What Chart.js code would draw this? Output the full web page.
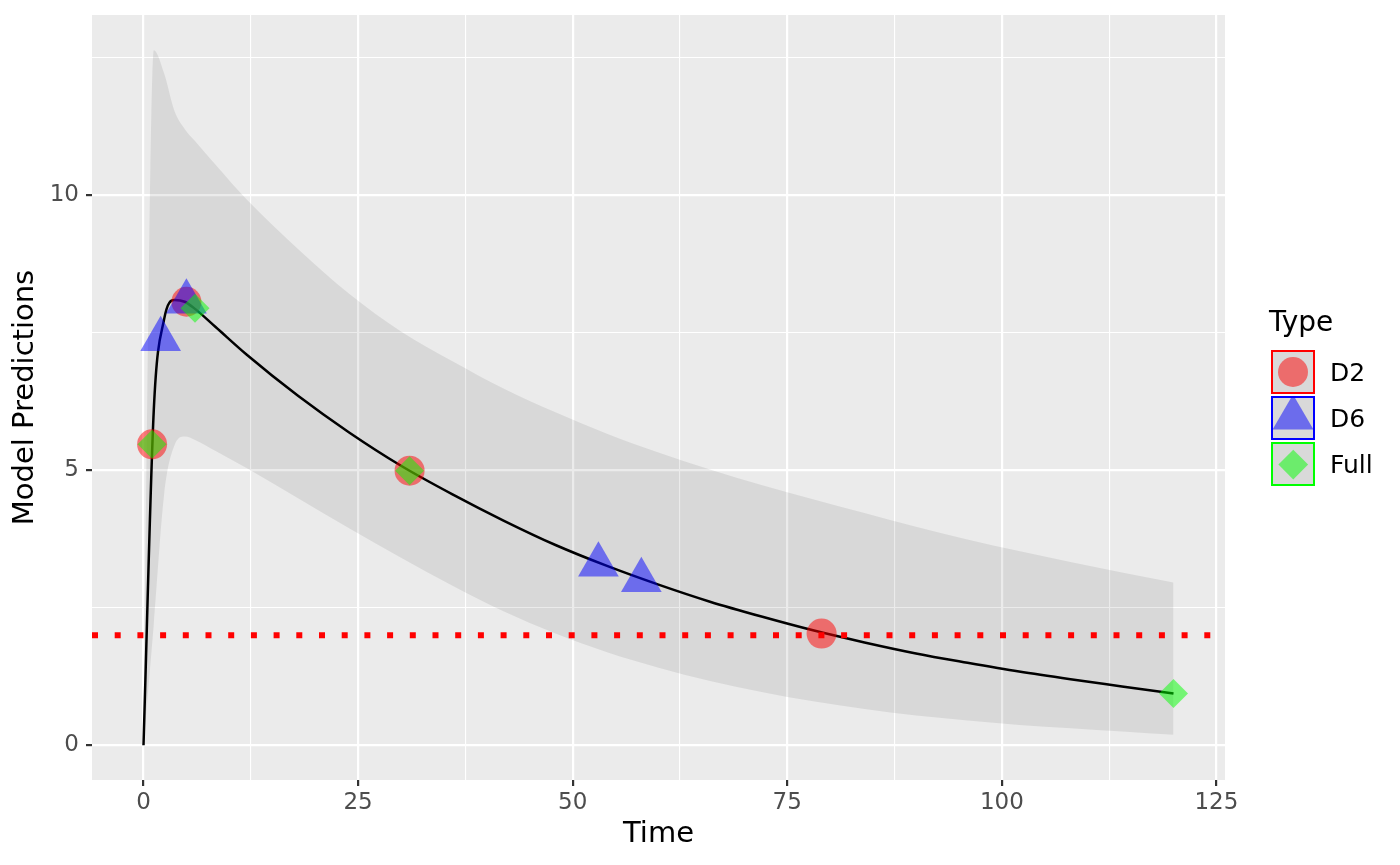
<!DOCTYPE html>
<html>
<head>
    <meta charset="utf-8">
    <title>Model Predictions</title>
    <script src="https://cdn.jsdelivr.net/npm/chart.js"></script>
    <style>
        body { margin: 0; background: #ffffff; font-family: "DejaVu Sans", sans-serif; }
        #wrap { position: relative; width: 1400px; height: 865px; }
        #predChart { position: absolute; left: 0; top: 0; }
        .legend-title { position: absolute; left: 1269px; top: 308px; font-size: 28px; line-height: 28px; color: #000; }
        .key { position: absolute; left: 1271px; width: 44px; height: 44px; box-sizing: border-box; border: 2px solid; background: #d9d9d9; overflow: hidden; }
        .key span { position: absolute; display: block; }
        .circle { left: 5px; top: 5px; width: 30px; height: 30px; border-radius: 50%; background: rgba(255, 0, 0, 0.5); }
        .triangle { left: -0.5px; top: -3.5px; width: 41px; height: 35px; clip-path: polygon(50% 0, 100% 100%, 0 100%); background: rgba(0, 0, 255, 0.5); }
        .diamond { left: 9.75px; top: 10.25px; width: 20.5px; height: 20.5px; transform: rotate(45deg); background: rgba(0, 255, 0, 0.5); }
        .label { position: absolute; left: 1330px; font-size: 25px; line-height: 25px; color: #000; }
    </style>
</head>
<body>
    <div id="wrap">
        <canvas id="predChart" width="1400" height="865"></canvas>
        <div class="legend-title">Type</div>
        <div class="key" style="top: 350px; border-color: #ff0000;"><span class="circle"></span></div>
        <div class="label" style="top: 360px;">D2</div>
        <div class="key" style="top: 396px; border-color: #0000ff;"><span class="triangle"></span></div>
        <div class="label" style="top: 406px;">D6</div>
        <div class="key" style="top: 442px; border-color: #00ff00;"><span class="diamond"></span></div>
        <div class="label" style="top: 452px;">Full</div>
    </div>

    <script>
        // prediction grid (time) with the band and the central prediction
        const gridTime = [0, 1.2, 2.4, 3.6, 4.8, 6, 8.4, 12, 18, 24, 30, 36, 42, 48, 54, 60, 66, 72, 78, 84, 90, 96, 102, 108, 114, 120];
        const bandUpper = [0, 12.63, 12.21, 11.53, 11.2, 10.98, 10.55, 9.92, 9.02, 8.2, 7.52, 6.98, 6.48, 6.05, 5.66, 5.32, 5.01, 4.73, 4.47, 4.22, 3.97, 3.74, 3.53, 3.33, 3.14, 2.96];
        const bandLower = [0, 2.2, 4.55, 5.45, 5.61, 5.55, 5.35, 5.04, 4.49, 3.94, 3.41, 2.9, 2.43, 2.03, 1.69, 1.41, 1.17, 0.97, 0.8, 0.66, 0.54, 0.45, 0.37, 0.31, 0.25, 0.19];
        const predValue = [0, 6.1, 7.74, 8.09, 8.06, 7.93, 7.6, 7.1, 6.35, 5.68, 5.08, 4.56, 4.08, 3.64, 3.26, 2.92, 2.61, 2.34, 2.09, 1.87, 1.67, 1.5, 1.34, 1.2, 1.07, 0.94];

        // observed samples by type
        const d2Time = [1, 5, 31, 79];
        const d2Value = [5.47, 8.06, 4.99, 2.03];
        const d6Time = [2, 5, 53, 58];
        const d6Value = [7.38, 8.06, 3.28, 3.0];
        const fullTime = [1, 6, 31, 120];
        const fullValue = [5.47, 7.94, 4.99, 0.94];

        const cutoff = 2;

        const xLimits = [-6, 126];
        const yLimits = [-0.63, 13.27];
        const xTicks = [0, 12.5, 25, 37.5, 50, 62.5, 75, 87.5, 100, 112.5, 125];
        const xLabelled = [0, 25, 50, 75, 100, 125];
        const yTicks = [0, 2.5, 5, 7.5, 10, 12.5];
        const yLabelled = [0, 5, 10];

        const pts = (xs, ys) => xs.map((x, i) => ({ x: x, y: ys[i] }));

        Chart.defaults.font.family = '"DejaVu Sans", sans-serif';

        const panelBackground = {
            id: 'panelBackground',
            beforeDraw(chart) {
                const { ctx, chartArea } = chart;
                ctx.save();
                ctx.fillStyle = '#ebebeb';
                ctx.fillRect(chartArea.left, chartArea.top, chartArea.right - chartArea.left, chartArea.bottom - chartArea.top);
                ctx.restore();
            }
        };

        function gridFor(labelled) {
            const major = (c) => c.tick && labelled.includes(c.tick.value);
            return {
                color: '#ffffff',
                lineWidth: (c) => major(c) ? 2.2 : 1.1,
                tickColor: (c) => major(c) ? '#333333' : 'rgba(0,0,0,0)',
                tickWidth: 2.2,
                tickLength: 6,
            };
        }

        const ctx = document.getElementById('predChart').getContext('2d');
        new Chart(ctx, {
            type: 'line',
            data: {
                datasets: [
                    {
                        label: 'upper',
                        data: pts(gridTime, bandUpper),
                        borderColor: 'rgba(0,0,0,0)',
                        backgroundColor: 'rgba(0,0,0,0.077)',
                        fill: '+1',
                        pointRadius: 0,
                        cubicInterpolationMode: 'monotone',
                        order: 6,
                    },
                    {
                        label: 'lower',
                        data: pts(gridTime, bandLower),
                        borderColor: 'rgba(0,0,0,0)',
                        fill: false,
                        pointRadius: 0,
                        cubicInterpolationMode: 'monotone',
                        order: 6,
                    },
                    {
                        label: 'prediction',
                        data: pts(gridTime, predValue),
                        borderColor: '#000000',
                        borderWidth: 2.5,
                        fill: false,
                        pointRadius: 0,
                        cubicInterpolationMode: 'monotone',
                        order: 5,
                    },
                    {
                        label: 'cutoff',
                        data: pts(xLimits, [cutoff, cutoff]),
                        borderColor: '#ff0000',
                        borderWidth: 6,
                        borderDash: [6, 16.7],
                        borderCapStyle: 'butt',
                        fill: false,
                        pointRadius: 0,
                        order: 4,
                    },
                    {
                        label: 'D2',
                        data: pts(d2Time, d2Value),
                        showLine: false,
                        pointStyle: 'circle',
                        pointRadius: 15,
                        pointBackgroundColor: 'rgba(255,0,0,0.5)',
                        pointBorderColor: 'rgba(0,0,0,0)',
                        pointBorderWidth: 0,
                        order: 3,
                    },
                    {
                        label: 'D6',
                        data: pts(d6Time, d6Value),
                        showLine: false,
                        pointStyle: 'triangle',
                        pointRadius: 23.5,
                        pointBackgroundColor: 'rgba(0,0,255,0.5)',
                        pointBorderColor: 'rgba(0,0,0,0)',
                        pointBorderWidth: 0,
                        order: 2,
                    },
                    {
                        label: 'Full',
                        data: pts(fullTime, fullValue),
                        showLine: false,
                        pointStyle: 'rectRot',
                        pointRadius: 14.5,
                        pointBackgroundColor: 'rgba(0,255,0,0.5)',
                        pointBorderColor: 'rgba(0,0,0,0)',
                        pointBorderWidth: 0,
                        order: 1,
                    },
                ],
            },
            options: {
                responsive: false,
                animation: false,
                events: [],
                layout: { autoPadding: false, padding: { top: 15, right: 175, bottom: 0, left: 0 } },
                plugins: {
                    legend: { display: false },
                    tooltip: { enabled: false },
                },
                scales: {
                    x: {
                        type: 'linear',
                        min: xLimits[0],
                        max: xLimits[1],
                        afterBuildTicks: (s) => { s.ticks = xTicks.map(v => ({ value: v })); },
                        afterFit: (s) => { s.height = 85; s.paddingLeft = 0; s.paddingRight = 0; },
                        grid: gridFor(xLabelled),
                        border: { display: false },
                        ticks: {
                            autoSkip: false,
                            maxRotation: 0,
                            padding: 3,
                            color: '#4d4d4d',
                            font: { size: 23 },
                            callback: (v) => xLabelled.includes(v) ? String(v) : '',
                        },
                        title: {
                            display: true,
                            text: 'Time',
                            color: '#000000',
                            font: { size: 29 },
                            padding: { top: 0, bottom: 13 },
                        },
                    },
                    y: {
                        type: 'linear',
                        min: yLimits[0],
                        max: yLimits[1],
                        afterBuildTicks: (s) => { s.ticks = yTicks.map(v => ({ value: v })); },
                        afterFit: (s) => { s.width = 92; s.paddingTop = 0; s.paddingBottom = 0; },
                        grid: gridFor(yLabelled),
                        border: { display: false },
                        ticks: {
                            autoSkip: false,
                            padding: 7,
                            color: '#4d4d4d',
                            font: { size: 23 },
                            callback: (v) => yLabelled.includes(v) ? String(v) : '',
                        },
                        title: {
                            display: true,
                            text: 'Model Predictions',
                            color: '#000000',
                            font: { size: 29 },
                            padding: { top: 8, bottom: 0 },
                        },
                    },
                },
            },
            plugins: [panelBackground],
        });
    </script>
</body>
</html>
